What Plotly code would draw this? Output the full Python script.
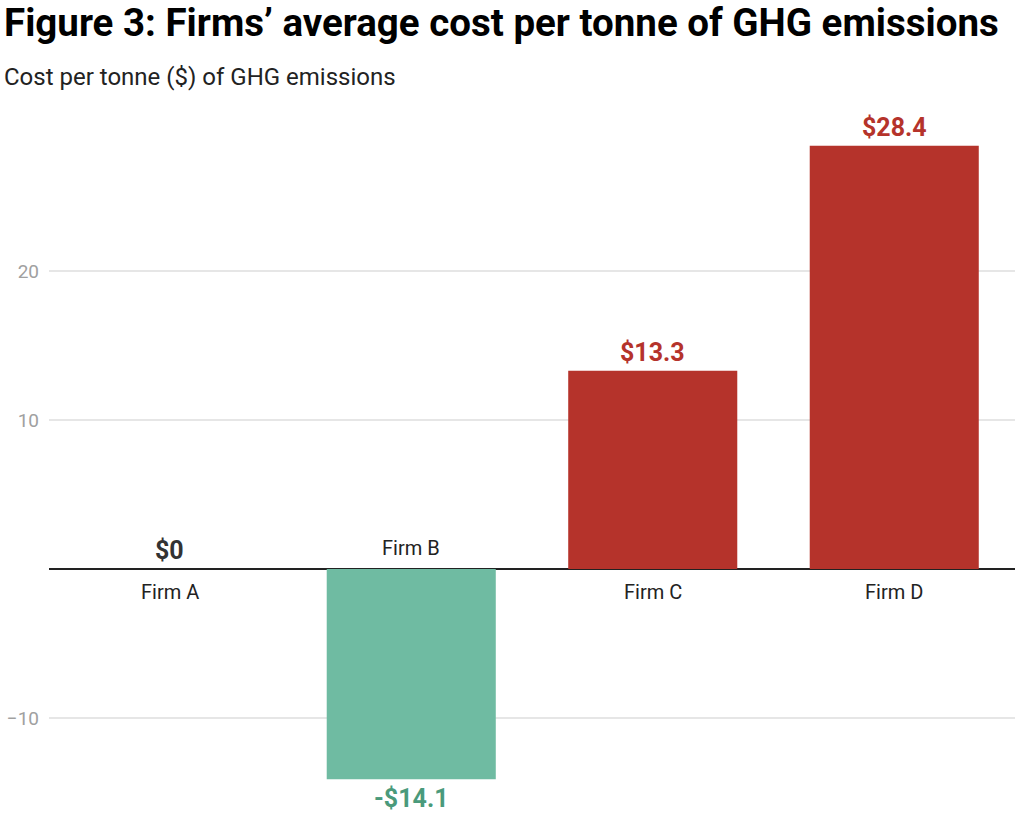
import plotly.graph_objects as go

firms = ["Firm A", "Firm B", "Firm C", "Firm D"]
costs = [0, -14.1, 13.3, 28.4]
value_labels = ["$0", "-$14.1", "$13.3", "$28.4"]
tick_values = [-10, 10, 20]

RED = "#b5332b"
GREEN = "#6fbba2"
GREEN_TXT = "#4a9a7b"
DARK = "#333333"

bar_colors = [RED if v > 0 else (GREEN if v < 0 else DARK) for v in costs]
label_colors = [RED if v > 0 else (GREEN_TXT if v < 0 else DARK) for v in costs]

fig = go.Figure()
fig.add_trace(go.Bar(
    x=firms, y=costs,
    marker=dict(color=bar_colors, line=dict(width=0)),
    hoverinfo="skip",
))

annotations = []
for f, v, lab, c in zip(firms, costs, value_labels, label_colors):
    # value label
    annotations.append(dict(
        x=f, y=v, xref="x", yref="y", text=lab, showarrow=False,
        yanchor="top" if v < 0 else "bottom",
        yshift=-3 if v < 0 else 2,
        font=dict(family="Roboto", size=25, color=c, weight="bold"),
    ))
    # category label
    annotations.append(dict(
        x=f, y=0, xref="x", yref="y", text=f, showarrow=False,
        yanchor="middle",
        yshift=21 if v < 0 else -23,
        font=dict(family="Roboto", size=20, color="#222222"),
    ))

annotations.append(dict(
    x=0, y=1, xref="paper", yref="paper", xanchor="left", yanchor="middle",
    xshift=-47, yshift=88,
    text="<b>Figure 3: Firms’ average cost per tonne of GHG emissions</b>",
    showarrow=False,
    font=dict(family="Roboto", size=38.5, color="#000000", weight=900),
))
annotations.append(dict(
    x=0, y=1, xref="paper", yref="paper", xanchor="left", yanchor="middle",
    xshift=-47, yshift=33,
    text="Cost per tonne ($) of GHG emissions",
    showarrow=False,
    font=dict(family="Roboto", size=24, color="#222222"),
))

fig.update_layout(
    width=1024, height=820,
    margin=dict(l=49, r=9, t=110, b=20, autoexpand=False),
    paper_bgcolor="white", plot_bgcolor="white",
    bargap=0.3,
    showlegend=False,
    hovermode=False,
    annotations=annotations,
    xaxis=dict(showticklabels=False, showgrid=False, zeroline=False, showline=False,
               ticks="", automargin=False),
    yaxis=dict(
        range=[-15.5, 30.8], tickvals=tick_values, automargin=False,
        showgrid=True, gridcolor="#e6e6e6", gridwidth=1.5,
        zeroline=True, zerolinecolor="#222222", zerolinewidth=1.5,
        tickfont=dict(family="Roboto", size=19, color="#a0a0a0"),
        ticklabelstandoff=9, showline=False,
    ),
)

fig.write_html(
    "out.html",
    config={"displayModeBar": False},
    post_script="document.body.style.margin='0';document.body.style.overflow='hidden';",
)
